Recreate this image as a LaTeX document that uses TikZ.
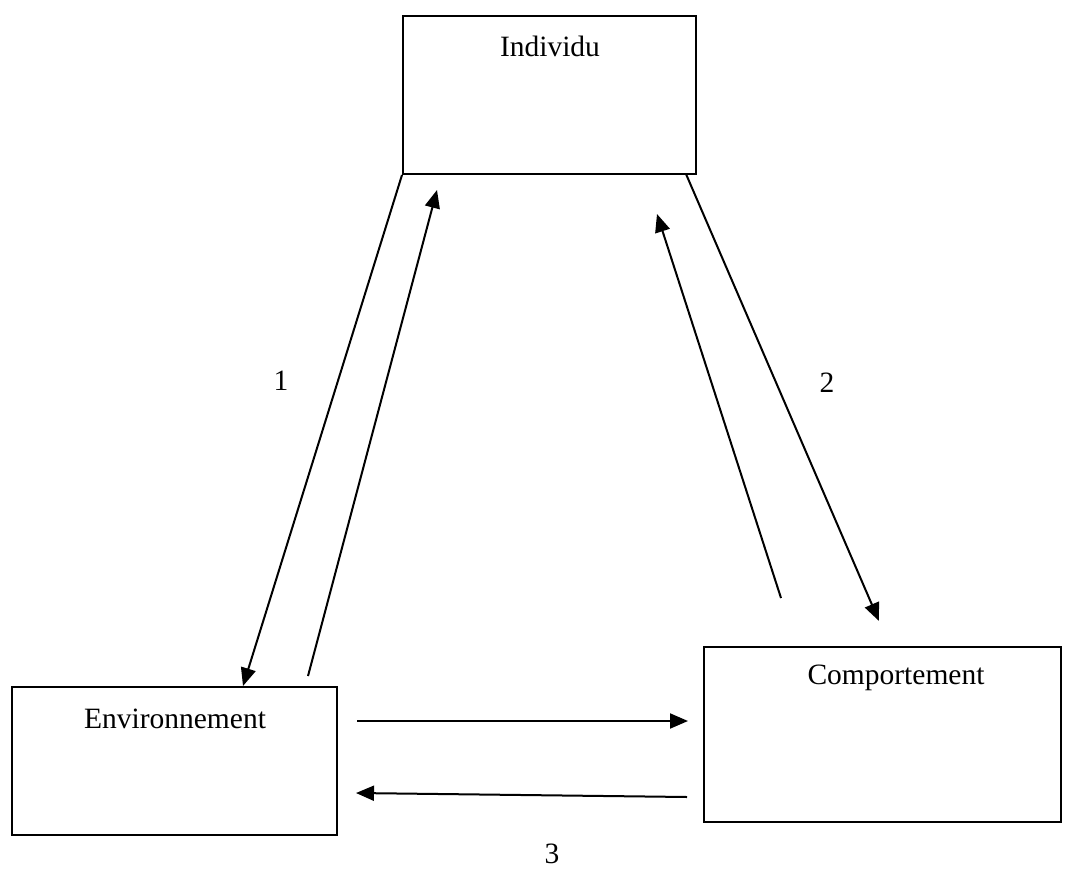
\documentclass[tikz,border=0pt]{standalone}
\usepackage{fontspec}
\setmainfont{Liberation Serif}
\usetikzlibrary{arrows.meta}
\begin{document}
\begin{tikzpicture}[x=1pt,y=-1pt,
  box/.style={draw,line width=2pt,inner sep=0pt},
  lbl/.style={font=\fontsize{29.5}{33}\selectfont,inner sep=0pt},
  conn/.style={line width=2pt,-{Triangle[length=18pt,width=15pt]}}]
\useasboundingbox (0,0) rectangle (1076,870);
\node[box,minimum width=293pt,minimum height=158pt] (ind) at (549.5,95) {};
\node[box,minimum width=325pt,minimum height=148pt] (env) at (174.5,761) {};
\node[box,minimum width=357pt,minimum height=175pt] (comp) at (882.5,734) {};
\node[lbl] (tind) at (550,46) {Individu};
\node[lbl] (tenv) at (175,719) {Environnement};
\node[lbl] (tcomp) at (896,678) {Comportement};
\node[lbl] (n1) at (281,381) {1};
\node[lbl] (n2) at (827,383) {2};
\node[lbl] (n3) at (552,854) {3};
\coordinate (a1e) at (243,686);
\coordinate (a2s) at (308,676);
\coordinate (a2e) at (437,190);
\coordinate (a3s) at (781,598);
\coordinate (a3e) at (657,214);
\coordinate (a4s) at (686,174);
\coordinate (a4e) at (879,621);
\coordinate (a5s) at (357,721);
\coordinate (a5e) at (688,721);
\coordinate (a6s) at (687,797);
\coordinate (a6e) at (356,793);
\draw[conn] (ind.south west) -- (a1e);
\draw[conn] (a2s) -- (a2e);
\draw[conn] (a3s) -- (a3e);
\draw[conn] (a4s) -- (a4e);
\draw[conn] (a5s) -- (a5e);
\draw[conn] (a6s) -- (a6e);
\end{tikzpicture}
\end{document}
